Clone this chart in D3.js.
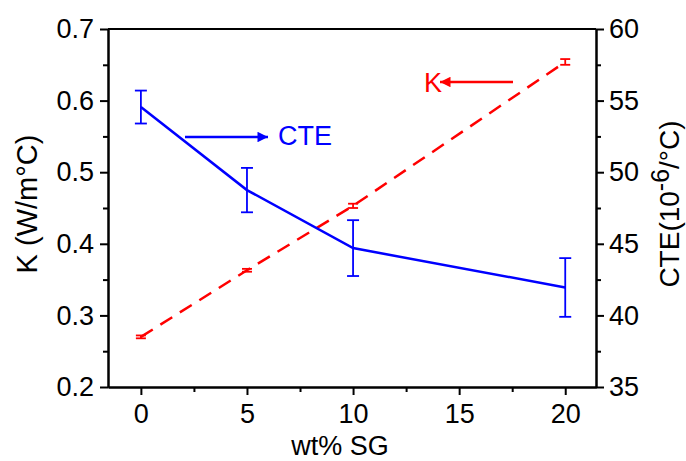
<!DOCTYPE html>
<html>
<head>
<meta charset="utf-8">
<script src="https://cdn.jsdelivr.net/npm/d3@7"></script>
<style>
  body { margin: 0; background: #fff; }
  text { font-family: "Liberation Sans", Arial, sans-serif; }
</style>
</head>
<body>
<div id="chart"></div>
<script>
const width = 686, height = 461;
const margin = {left: 108, top: 29, right: 90, bottom: 74};

// data
const sgContent = [0, 5, 10, 20];
const kValues = [0.270, 0.363, 0.453, 0.654];
const kErrors = [0.002, 0.002, 0.003, 0.004];
const cteValues = [54.55, 48.75, 44.7, 41.95];
const cteErrors = [1.15, 1.55, 1.95, 2.05];

const xTicks = [0, 5, 10, 15, 20];
const kTicks = [0.2, 0.3, 0.4, 0.5, 0.6, 0.7];
const cteTicks = [35, 40, 45, 50, 55, 60];

const plotW = width - margin.left - margin.right;
const plotH = height - margin.top - margin.bottom;

const svg = d3.select("#chart").append("svg")
  .attr("width", width).attr("height", height);

const g = svg.append("g")
  .attr("transform", `translate(${margin.left},${margin.top})`);

let x = d3.scaleLinear().domain([-1.55, 21.45]).range([0, plotW]);
let yK = d3.scaleLinear().domain([0.2, 0.7]).range([plotH, 0]);
let yC = d3.scaleLinear().domain([35, 60]).range([plotH, 0]);

const blue = "#0000ff", red = "#ff0000";
const fs = 27;

// arrow markers
const defs = svg.append("defs");
[["arrBlue", blue], ["arrRed", red]].forEach(([id, c]) => {
  defs.append("marker").attr("id", id)
    .attr("viewBox", "0 0 10 10").attr("refX", 10).attr("refY", 5)
    .attr("markerWidth", 6).attr("markerHeight", 4.2)
    .attr("markerUnits", "strokeWidth")
    .attr("orient", "auto")
    .append("path").attr("d", "M0,0 L10,5 L0,10 z").attr("fill", c);
});

// K series (dashed red)
const kData = sgContent.map((s, i) => ({x: s, y: kValues[i], e: kErrors[i]}));
g.append("path").datum(kData)
  .attr("fill", "none").attr("stroke", red).attr("stroke-width", 2.5)
  .attr("stroke-dasharray", "14,9")
  .attr("d", d3.line().x(d => x(d.x)).y(d => yK(d.y)));

const kErr = g.selectAll(".kerr").data(kData).enter().append("g")
  .attr("stroke", red).attr("stroke-width", 1.8);
kErr.append("line")
  .attr("x1", d => x(d.x)).attr("x2", d => x(d.x))
  .attr("y1", d => yK(d.y - d.e)).attr("y2", d => yK(d.y + d.e));
kErr.append("line")
  .attr("x1", d => x(d.x) - 5).attr("x2", d => x(d.x) + 5)
  .attr("y1", d => yK(d.y - d.e)).attr("y2", d => yK(d.y - d.e));
kErr.append("line")
  .attr("x1", d => x(d.x) - 5).attr("x2", d => x(d.x) + 5)
  .attr("y1", d => yK(d.y + d.e)).attr("y2", d => yK(d.y + d.e));

// CTE series (solid blue)
const cData = sgContent.map((s, i) => ({x: s, y: cteValues[i], e: cteErrors[i]}));
g.append("path").datum(cData)
  .attr("fill", "none").attr("stroke", blue).attr("stroke-width", 2.5)
  .attr("d", d3.line().x(d => x(d.x)).y(d => yC(d.y)));

const cErr = g.selectAll(".cerr").data(cData).enter().append("g")
  .attr("stroke", blue).attr("stroke-width", 1.8);
cErr.append("line")
  .attr("x1", d => x(d.x)).attr("x2", d => x(d.x))
  .attr("y1", d => yC(d.y - d.e)).attr("y2", d => yC(d.y + d.e));
cErr.append("line")
  .attr("x1", d => x(d.x) - 6).attr("x2", d => x(d.x) + 6)
  .attr("y1", d => yC(d.y - d.e)).attr("y2", d => yC(d.y - d.e));
cErr.append("line")
  .attr("x1", d => x(d.x) - 6).attr("x2", d => x(d.x) + 6)
  .attr("y1", d => yC(d.y + d.e)).attr("y2", d => yC(d.y + d.e));

// axes
function styleAxis(sel) {
  sel.select(".domain").attr("stroke", "#000").attr("stroke-width", 2);
  sel.selectAll(".tick line").attr("stroke", "#000").attr("stroke-width", 2);
  sel.selectAll(".tick text").attr("font-size", fs).attr("fill", "#000")
    .attr("font-family", "Liberation Sans, Arial, sans-serif");
}

const xMinor = [2.5, 7.5, 12.5, 17.5];
g.append("g").attr("transform", `translate(0,${plotH})`)
  .call(d3.axisBottom(x).tickValues(xMinor).tickSize(5).tickSizeOuter(0).tickFormat(""))
  .call(styleAxis);
g.append("g").attr("transform", `translate(0,${plotH})`)
  .call(d3.axisBottom(x).tickValues(xTicks).tickSize(8).tickSizeOuter(0).tickPadding(9))
  .call(styleAxis);

const kMinor = [0.25, 0.35, 0.45, 0.55, 0.65];
g.append("g")
  .call(d3.axisLeft(yK).tickValues(kMinor).tickSize(5).tickSizeOuter(0).tickFormat(""))
  .call(styleAxis);
g.append("g")
  .call(d3.axisLeft(yK).tickValues(kTicks).tickSize(8).tickSizeOuter(0).tickPadding(6).tickFormat(d3.format(".1f")))
  .call(styleAxis);

const cMinor = [37.5, 42.5, 47.5, 52.5, 57.5];
g.append("g").attr("transform", `translate(${plotW},0)`)
  .call(d3.axisRight(yC).tickValues(cMinor).tickSize(5).tickSizeOuter(0).tickFormat(""))
  .call(styleAxis);
g.append("g").attr("transform", `translate(${plotW},0)`)
  .call(d3.axisRight(yC).tickValues(cteTicks).tickSize(8).tickSizeOuter(0).tickPadding(5))
  .call(styleAxis);

// top frame
g.append("line").attr("x1", 0).attr("x2", plotW).attr("y1", 0).attr("y2", 0)
  .attr("stroke", "#000").attr("stroke-width", 2);

// axis titles
svg.append("text").attr("x", 340).attr("y", 455)
  .attr("text-anchor", "middle").attr("font-size", fs).text("wt% SG");

svg.append("text")
  .attr("transform", "translate(37,204) rotate(-90)")
  .attr("text-anchor", "middle").attr("font-size", 29).text("K (W/m\u00B0C)");

const rt = svg.append("text")
  .attr("transform", "translate(679,204) rotate(-90)")
  .attr("text-anchor", "middle").attr("font-size", 28);
rt.append("tspan").text("CTE(10");
rt.append("tspan").attr("dy", -10).attr("font-size", 25).text("-6");
rt.append("tspan").attr("dy", 10).text("/\u00B0C)");

// annotations
svg.append("line").attr("x1", 185).attr("x2", 268).attr("y1", 137).attr("y2", 137)
  .attr("stroke", blue).attr("stroke-width", 2.5).attr("marker-end", "url(#arrBlue)");
svg.append("text").attr("x", 278).attr("y", 145).attr("font-size", fs)
  .attr("fill", blue).text("CTE");

svg.append("line").attr("x1", 513).attr("x2", 440).attr("y1", 82).attr("y2", 82)
  .attr("stroke", red).attr("stroke-width", 2.5).attr("marker-end", "url(#arrRed)");
svg.append("text").attr("x", 424).attr("y", 92).attr("font-size", fs)
  .attr("fill", red).text("K");
</script>
</body>
</html>
